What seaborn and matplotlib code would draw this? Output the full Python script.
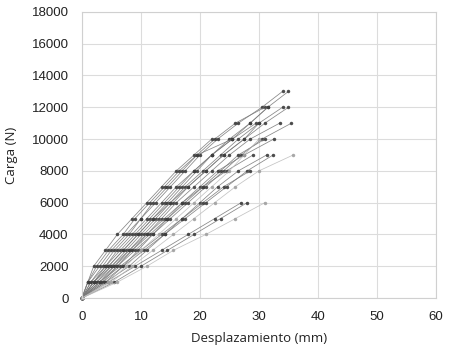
import matplotlib
matplotlib.use("Agg")
import matplotlib.pyplot as plt
import pandas as pd
import seaborn as sns

# Desplazamientos (mm) de cada probeta en los escalones de carga 0, 1000, 2000, ... N
PROBETAS = {
    "P01": [0, 1.5, 3.5, 5.5, 8, 10, 12.5, 15, 17.5, 20, 23, 26.5, 30.5, 34],
    "P02": [0, 2, 4.5, 7, 9.5, 12, 14.5, 17, 19.5, 22, 25.5, 28.5, 31.5, 35],
    "P03": [0, 1, 3, 5, 7.5, 10, 12, 14.5, 17, 19.5, 22.5, 26, 31],
    "P04": [0, 2.5, 5, 7.5, 10, 12.5, 15, 17.5, 20.5, 23.5, 26.5, 30, 34],
    "P05": [0, 3, 5.5, 8, 10.5, 13, 15.5, 18, 21, 24, 27.5, 31, 35],
    "P06": [0, 1.5, 4, 6.5, 9, 11.5, 14, 16.5, 19, 22, 25, 28.5, 31.5],
    "P07": [0, 3.5, 6, 8.5, 11, 13.5, 16, 19, 22, 25, 28.5, 33.5],
    "P08": [0, 4, 7, 9.5, 12, 15, 18, 21, 24, 27, 30.5, 35.5],
    "P09": [0, 2, 4.5, 7, 9.5, 12, 15, 18, 21, 24, 27.5, 30],
    "P10": [0, 2.5, 5.5, 8.5, 11.5, 14.5, 17.5, 20.5, 23.5, 26.5, 31],
    "P11": [0, 3, 6, 9, 12, 14.5, 17, 20, 23, 27.5, 32.5],
    "P12": [0, 1, 2.5, 4.5, 7, 9, 11.5, 14, 16.5, 19.5, 25.5],
    "P13": [0, 3.5, 7, 10.5, 14, 17, 20, 23, 26.5, 31.3],
    "P14": [0, 4, 8, 11, 14, 17.5, 21, 24.5, 28, 32.4],
    "P15": [0, 2, 5, 8, 11, 14, 17, 20.5, 24.5, 29],
    "P16": [0, 3, 6.5, 10, 13.5, 17, 20.5, 24, 28.5],
    "P17": [0, 5.5, 10, 14.5, 19, 23.5, 28],
    "P18": [0, 4.5, 9, 13.5, 18, 22.5, 27],
    "P19": [0, 2, 4, 6, 8.5, 11, 13.5, 16, 19, 22, 25.5, 29.5],
    "P20": [0, 1, 2, 4, 6, 8.5, 11, 13.5, 16, 19, 22],
}
# probetas dibujadas en gris claro
PROBETAS_CLARAS = {
    "P21": [0, 5, 8.5, 12, 15.5, 19, 22.5, 26, 30, 35.8],
    "P22": [0, 6, 11, 15.5, 21, 26, 31],
    "P23": [0, 4.5, 7.5, 10, 13, 16, 19, 22, 25, 27.5, 30],
}
PASO_CARGA = 1000

filas = []
for tono, grupo in (("oscuro", PROBETAS), ("claro", PROBETAS_CLARAS)):
    for pid, desp in grupo.items():
        for i, d in enumerate(desp):
            filas.append({"probeta": pid, "tono": tono, "desp": d, "carga": i * PASO_CARGA})
df = pd.DataFrame(filas)

sns.set_style("whitegrid", {"grid.color": "#dcdcdc", "axes.edgecolor": "#d0d0d0"})
plt.rcParams["font.family"] = ["Open Sans", "DejaVu Sans"]

fig = plt.figure(figsize=(4.6, 3.49), dpi=100)
ax = fig.add_axes([0.178, 0.146, 0.77, 0.82])
sns.lineplot(data=df, x="desp", y="carga", units="probeta", hue="tono",
             palette={"oscuro": "#7a7a7a", "claro": "#bdbdbd"},
             estimator=None, sort=False, marker="o", markersize=2.5,
             markeredgewidth=0, linewidth=0.55, legend=False, ax=ax)
for ln in ax.lines:
    ln.set_markerfacecolor("#3c3c3c" if ln.get_color() == "#7a7a7a" else "#a0a0a0")
    ln.set_alpha(0.9)
    ln.set_clip_on(False)

ax.set_xlim(0, 60)
ax.set_ylim(0, 18000)
ax.set_xticks(range(0, 61, 10))
ax.set_yticks(range(0, 18001, 2000))
ax.tick_params(labelsize=9.5, colors="#222222", pad=6)
for lbl in ax.get_xticklabels() + ax.get_yticklabels():
    lbl.set_fontfamily(["Liberation Sans", "DejaVu Sans"])
ax.set_xlabel("Desplazamiento (mm)", fontsize=9.5, color="#222222", labelpad=6)
ax.set_ylabel("Carga (N)", fontsize=9.5, color="#222222", labelpad=10)
for s in ax.spines.values():
    s.set_linewidth(0.8)

fig.savefig("out.png", dpi=100)
